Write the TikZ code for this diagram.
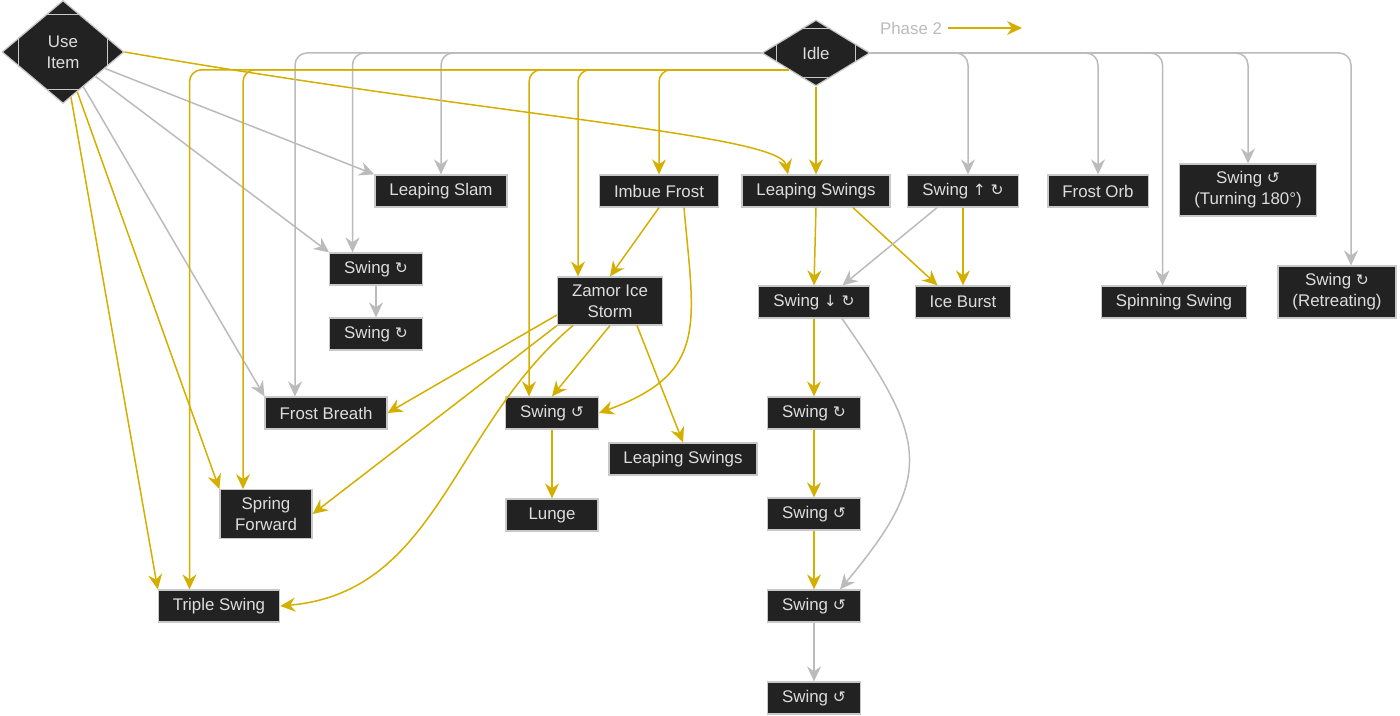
\documentclass[tikz,border=0pt]{standalone}
\usepackage{fontspec}
\setmainfont{Liberation Sans}
\newfontfamily\symfont{DejaVu Sans}[Scale=0.92]
\usetikzlibrary{arrows.meta, positioning, shapes.geometric, calc}

\definecolor{boxfill}{RGB}{34,34,34}
\definecolor{boxline}{RGB}{200,200,200}
\definecolor{boxtext}{RGB}{221,221,221}
\definecolor{flowyellow}{RGB}{212,175,0}
\definecolor{flowgray}{RGB}{187,187,187}

\newcommand{\rotcw}{{\symfont ↻}}
\newcommand{\rotccw}{{\symfont ↺}}
\newcommand{\arrup}{{\symfont ↑}}
\newcommand{\arrdown}{{\symfont ↓}}

\begin{document}
\begin{tikzpicture}[
    x=0.2mm, y=0.2mm,
    >={Stealth[length=3mm, width=2.8mm, inset=1mm]},
    every node/.style={font=\fontsize{9.6}{12}\selectfont},
    move/.style={rectangle, draw=boxline, fill=boxfill, text=boxtext, line width=0.25mm,
                 inner xsep=2.9mm, inner ysep=1.5mm, minimum width=18.4mm,
                 minimum height=6.4mm, align=center},
    choice/.style={diamond, draw=boxline, fill=boxfill, text=boxtext, line width=0.25mm,
                   inner sep=0pt, align=center},
    notch/.style={draw=boxline, line width=0.25mm},
    yflow/.style={->, draw=flowyellow, line width=0.3mm},
    gflow/.style={->, draw=flowgray, line width=0.3mm},
    bus/.style={rounded corners=2.4mm}
]
    \useasboundingbox (0,0) rectangle (1400,-716);

    % --- Decisiones ---
    \node[choice, minimum width=24.4mm, minimum height=20.6mm] (useitem) at (63,-52) {Use\\Item};
    \node[choice, minimum width=21.6mm, minimum height=13.2mm] (idle) at (816,-53) {Idle};

    % --- Leyenda ---
    \node[text=flowgray] (phase) at (911,-28) {Phase 2};
    \coordinate (phaseend) at (1022,-28);

    % --- Fila 1 ---
    \node[move] (lslam)   at (441,-191)  {Leaping Slam};
    \node[move] (imbue)   at (659,-191)  {Imbue Frost};
    \node[move] (lswings) at (816,-191)  {Leaping Swings};
    \node[move] (swup)    at (963,-191)  {Swing \arrup\ \rotcw};
    \node[move] (forb)    at (1098,-191) {Frost Orb};
    \node[move] (turn)    at (1248,-190) {Swing \rotccw\\(Turning 180°)};

    % --- Fila 2 ---
    \node[move] (swa)     at (376,-269)  {Swing \rotcw};
    \node[move] (swb)     at (376,-334)  {Swing \rotcw};
    \node[move] (zamor)   at (610,-301)  {Zamor Ice\\Storm};
    \node[move] (swdown)  at (814,-302)  {Swing \arrdown\ \rotcw};
    \node[move] (iburst)  at (963,-302)  {Ice Burst};
    \node[move] (spin)    at (1174,-302) {Spinning Swing};
    \node[move] (retreat) at (1337,-292) {Swing \rotcw\\(Retreating)};

    % --- Fila 3 ---
    \node[move] (fbreath)  at (326,-413) {Frost Breath};
    \node[move] (swc)      at (552,-413) {Swing \rotccw};
    \node[move] (swd)      at (814,-413) {Swing \rotcw};
    \node[move] (lswings2) at (683,-459) {Leaping Swings};

    % --- Fila 4 y 5 ---
    \node[move] (spring) at (266,-514) {Spring\\Forward};
    \node[move] (lunge)  at (552,-515) {Lunge};
    \node[move] (swe)    at (814,-514) {Swing \rotccw};
    \node[move] (triple) at (219,-606) {Triple Swing};
    \node[move] (swf)    at (814,-606) {Swing \rotccw};
    \node[move] (swg)    at (814,-698) {Swing \rotccw};

    % marcas en las esquinas de los rombos
    \draw[notch] ($(useitem.north)!.28!(useitem.west)$) -- ($(useitem.north)!.28!(useitem.east)$);
    \draw[notch] ($(useitem.south)!.28!(useitem.west)$) -- ($(useitem.south)!.28!(useitem.east)$);
    \draw[notch] ($(useitem.west)!.28!(useitem.north)$) -- ($(useitem.west)!.28!(useitem.south)$);
    \draw[notch] ($(useitem.east)!.28!(useitem.north)$) -- ($(useitem.east)!.28!(useitem.south)$);
    \draw[notch] ($(idle.north)!.28!(idle.west)$) -- ($(idle.north)!.28!(idle.east)$);
    \draw[notch] ($(idle.south)!.28!(idle.west)$) -- ($(idle.south)!.28!(idle.east)$);
    \draw[notch] ($(idle.west)!.28!(idle.north)$) -- ($(idle.west)!.28!(idle.south)$);
    \draw[notch] ($(idle.east)!.28!(idle.north)$) -- ($(idle.east)!.28!(idle.south)$);

    % --- Aristas ---
    \draw[yflow] (phase.east) -- (phaseend);

    % Use Item
    \draw[gflow] (useitem) -- (lslam.north west);
    \draw[gflow] (useitem) -- (swa.north west);
    \draw[gflow] (useitem) -- (fbreath.north west);
    \draw[yflow] (useitem) -- (spring.north west);
    \draw[yflow] (useitem) -- (triple.north west);
    \draw[yflow] (useitem.east) .. controls +(376,-65) and +(-8,40) .. ([xshift=-5.6mm]lswings.north);

    % Idle, ramas grises
    \draw[gflow, bus] (idle.west) -| ([xshift=-6.2mm]fbreath.north);
    \draw[gflow, bus] (idle.west) -| ([xshift=-4.7mm]swa.north);
    \draw[gflow, bus] (idle.west) -| (lslam.north);
    \draw[gflow, bus] (idle.east) -| ([xshift=1mm]swup.north);
    \draw[gflow, bus] (idle.east) -| (forb.north);
    \draw[gflow, bus] (idle.east) -| ([xshift=-2.3mm]spin.north);
    \draw[gflow, bus] (idle.east) -| (turn.north);
    \draw[gflow, bus] (idle.east) -| ([xshift=2.8mm]retreat.north);

    % Idle, ramas amarillas
    \draw[yflow, bus] (idle.south west) -| ([xshift=-5.9mm]triple.north);
    \draw[yflow, bus] (idle.south west) -| ([xshift=-4.6mm]spring.north);
    \draw[yflow, bus] (idle.south west) -| ([xshift=-4.6mm]swc.north);
    \draw[yflow, bus] (idle.south west) -| ([xshift=-6.4mm]zamor.north);
    \draw[yflow, bus] (idle.south west) -| (imbue.north);
    \draw[yflow] (idle.south) -- (lswings.north);

    % Imbue Frost
    \draw[yflow] (imbue.south) -- (zamor.north);
    \draw[yflow] ([xshift=5mm]imbue.south) to[out=-85, in=20, looseness=1.35] (swc.east);

    % Leaping Swings / Swing arriba
    \draw[yflow] (lswings.south) -- (swdown.north);
    \draw[yflow] ([xshift=7.4mm]lswings.south) -- ([xshift=-5.1mm]iburst.north);
    \draw[gflow] ([xshift=-5.2mm]swup.south) -- ([xshift=5.7mm]swdown.north);
    \draw[yflow] (swup.south) -- (iburst.north);

    % Zamor Ice Storm
    \draw[yflow] ([yshift=-2.8mm]zamor.west) -- (fbreath.east);
    \draw[yflow] (zamor.south west) -- (spring.east);
    \draw[yflow] ([xshift=-7.4mm]zamor.south) to[out=-140, in=5] (triple.east);
    \draw[yflow] (zamor.south) -- (swc.north);
    \draw[yflow] ([xshift=5.4mm]zamor.south) -- (lswings2.north);

    % Cadenas
    \draw[gflow] (swa) -- (swb);
    \draw[yflow] (swc) -- (lunge);
    \draw[yflow] (swdown) -- (swd);
    \draw[yflow] (swd) -- (swe);
    \draw[yflow] (swe) -- (swf);
    \draw[gflow] (swf) -- (swg);
    \draw[gflow] ([xshift=5.6mm]swdown.south) to[out=-55, in=50, looseness=1.4] ([xshift=5.2mm]swf.north);

\end{tikzpicture}
\end{document}
